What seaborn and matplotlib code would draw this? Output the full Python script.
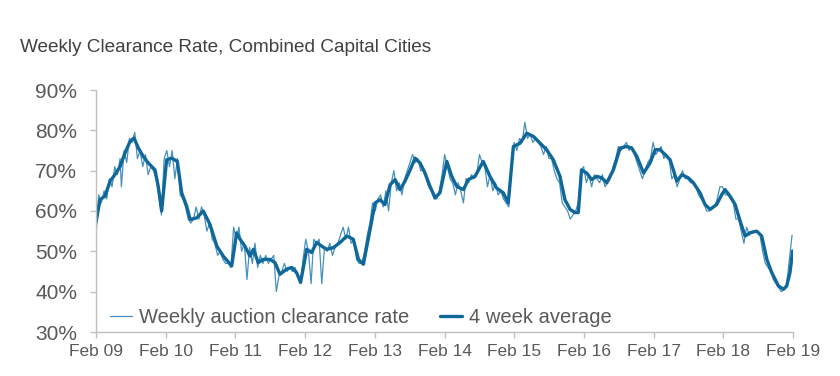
import pandas as pd
import numpy as np
import matplotlib
matplotlib.use('Agg')
import matplotlib.pyplot as plt
import matplotlib.dates as mdates
from matplotlib.ticker import FuncFormatter
import seaborn as sns

sns.set_style('white')
plt.rcParams['font.family'] = ['Liberation Sans', 'DejaVu Sans']

# weekly clearance rate (week number from Feb 2009, value %)
weekly_wk = [0, 2, 4, 6, 8, 10, 12, 14, 16, 18, 19, 21, 23, 25, 27, 29, 31, 33, 35, 37, 39, 41, 43, 45, 47, 49,
             51, 53, 55, 57, 59, 61, 63, 65, 67, 69, 71, 73, 75, 77, 79, 81, 83, 85, 87, 89, 91, 93, 95, 97, 99, 101,
             103, 105, 107, 109, 111, 113, 115, 117, 119, 121, 123, 125, 127, 129, 131, 133, 135, 137, 139, 141, 143,
             145, 147, 149, 151, 153, 155, 157, 159, 161, 163, 165, 167, 169, 171, 173, 175, 177, 179, 181, 183, 185,
             187, 189, 191, 193, 195, 197, 199, 201, 203, 205, 207, 209, 211, 213, 215, 217, 219, 221, 223, 225, 227,
             229, 231, 233, 235, 237, 239, 241, 243, 245, 247, 249, 251, 253, 255, 257, 259, 261, 263, 265, 267, 269,
             271, 273, 275, 277, 279, 281, 283, 285, 287, 289, 291, 293, 295, 297, 299, 301, 303, 305, 307, 309, 311,
             313, 315, 317, 319, 321, 323, 325, 327, 329, 331, 333, 335, 337, 339, 341, 343, 345, 347, 349, 351, 353,
             355, 357, 359, 361, 363, 365, 367, 369, 371, 373, 375, 377, 379, 381, 383, 385, 387, 389, 391, 393, 395,
             397, 399, 401, 403, 405, 407, 409, 411, 413, 415, 417, 419, 421, 423, 425, 427, 429, 431, 433, 435, 437,
             439, 441, 443, 445, 447, 449, 451, 453, 455, 457, 459, 461, 463, 465, 467, 469, 471, 473, 475, 477, 479,
             481, 483, 485, 487, 489, 491, 493, 495, 497, 499, 501, 503, 505, 507, 509, 511, 513, 515, 517, 519, 521]
weekly_val = [54, 64, 62, 65, 63, 68, 66, 71, 69, 73, 66, 75, 72, 78, 77, 79.5, 73, 75, 71, 74, 69, 71, 70, 68, 64, 59,
              73, 75, 71, 75, 68, 73, 64, 63, 61, 58, 57, 58, 61, 58, 61, 59, 55, 57, 53, 52, 49, 50, 48, 47, 47, 46,
              56, 53, 56, 50, 52, 43, 51, 47, 52, 46, 49, 47, 49, 47, 48, 49, 40, 44, 45, 47, 45,
              46, 45, 46, 44, 42, 48, 53, 50, 42, 53, 52, 53, 42, 51, 50, 52, 49, 51, 52, 54, 56,
              53, 56, 52, 53, 48, 47, 47, 50, 54, 57, 62, 60, 63, 64, 61, 65, 60, 67, 70, 65, 67,
              64, 68, 70, 72, 74, 72, 73, 70, 70, 68, 66, 65, 63, 63, 65, 69, 74, 71, 68, 67, 64,
              67, 65, 62, 68, 67, 69, 68, 69, 74, 72, 71, 66, 69, 65, 67, 64, 65, 63, 62, 61, 72,
              77, 75, 78, 77, 82, 78, 79, 77, 78, 77, 76, 74, 76, 73, 73, 70, 68, 67, 62, 61, 60,
              58, 59, 60, 62, 70, 71, 67, 69, 66, 69, 68, 67, 69, 66, 67, 68, 71, 73, 76, 75, 76,
              77, 75, 76, 74, 72, 70, 68, 70, 72, 73, 77, 74, 75, 76, 73, 74, 73, 68, 69, 66, 68,
              70, 68, 68, 67, 67, 66, 64, 63, 62, 60, 60, 61, 61, 63, 66, 66, 64, 64, 63, 62, 58,
              58, 55, 52, 56, 54, 55, 55, 55, 54, 50, 47, 46, 45, 43, 42, 41, 40, 40.5, 42, 48, 54]

# 4 week average (week number, value %)
avg_wk = [0, 3, 6.7, 10.5, 14.2, 18, 21.7, 25.5, 28.4, 31.7, 35.4, 39.2, 44.2, 46.6, 49.2, 52.9, 56.6, 60.9, 64.1,
          67.9, 70.4, 75.4, 80.3, 85.3, 90.4, 95.3, 101.6, 105.3, 107.8, 111.5, 115.3, 117.8, 121.5, 125.2, 130.3,
          134, 137.7, 142.7, 146.5, 150.2, 153.2, 157.7, 161.4, 165.2, 168.9, 172.7, 177.6, 182.7, 187.7, 192.6,
          196.4, 200.1, 205.1, 208.9, 212.6, 216.3, 220.1, 223.8, 227.6, 231.3, 235.1, 238.8, 242.5, 246.3, 250,
          253.8, 257.5, 262.5, 266.3, 270, 275, 278.7, 283.7, 289.9, 294.9, 299.9, 304.9, 308.6, 312.4, 317.4,
          322.4, 327.4, 332.4, 337.3, 342.3, 347.3, 351, 354.8, 358.5, 361, 363.5, 367.3, 371, 374.8, 378.5,
          382.3, 387.3, 392.3, 397.3, 401, 404.8, 409.8, 414.7, 418.5, 422.2, 426, 429.7, 432.2, 434.7, 438.5,
          443.4, 447.2, 452.2, 455.9, 459.7, 464.6, 468.4, 470.9, 474.6, 478.4, 482.1, 485.9, 489.6, 494.6,
          498.3, 502.1, 505.8, 510.8, 514.5, 517, 519.5, 521.5]
avg_val = [57.2, 62.8, 63.7, 67.4, 69, 71, 74.4, 77.2, 78.1, 75.6, 73.5, 71.9, 70.2, 66.1, 60, 72.7, 73.1, 72.3, 64.5,
           61.2, 57.9, 58.3, 60, 56.7, 51.3, 48.8, 46.4, 54.6, 53, 51.3, 48.8, 50.5, 47.2, 48, 48,
           47.2, 44.3, 45.6, 46, 44.7, 42.3, 50.5, 49.7, 52.2, 51.3, 50.5, 50.9, 52.2, 53.8, 53,
           48, 46.8, 55.4, 62, 62.8, 61.6, 66.5, 67.8, 65.3, 67.4, 70.2, 73.1, 71.9, 69.4, 66.1,
           63.3, 64.5, 72.3, 68.6, 66.1, 65.3, 67.8, 68.6, 72.3, 68.6, 65.7, 64.5, 62, 76, 76.8,
           79.3, 78.5, 76.8, 75.2, 72.7, 68.6, 62.8, 60.4, 59.6, 59.6, 70.2, 69.4, 67.8, 68.6, 68.2,
           67, 70.2, 75.6, 76, 75.6, 73.5, 69.4, 71.9, 75.2, 75.2, 74, 72.7, 70.2, 67.4, 69,
           68.2, 67, 64.5, 61.6, 60.4, 61.6, 64.1, 65.3, 63.7, 61.6, 57.5, 53.8, 54.6, 55,
           53.8, 48, 44.7, 41.4, 40.6, 41.4, 44.7, 50.1]

start = pd.Timestamp('2009-02-01')
weekly = pd.DataFrame({'date': start + pd.to_timedelta(np.array(weekly_wk) * 7, unit='D'),
                       'rate': weekly_val})
avg = pd.DataFrame({'date': start + pd.to_timedelta(np.round(np.array(avg_wk) * 7), unit='D'),
                    'rate': avg_val})

thin_col = '#4590bc'
thick_col = '#10679a'
grey = '#595959'

fig = plt.figure(figsize=(8.4, 3.76), dpi=100)
ax = fig.add_axes([96 / 840, 1 - 332 / 376, 697 / 840, 242 / 376])

sns.lineplot(data=weekly, x='date', y='rate', ax=ax, color=thin_col, linewidth=0.9,
             label='Weekly auction clearance rate')
sns.lineplot(data=avg, x='date', y='rate', ax=ax, color=thick_col, linewidth=2.4,
             label='4 week average')

ax.set_ylim(30, 90)
ax.set_xlim(pd.Timestamp('2009-02-01'), pd.Timestamp('2019-02-01'))
ax.set_yticks(range(30, 91, 10))
ax.yaxis.set_major_formatter(FuncFormatter(lambda v, p: f'{v:.0f}%'))
ax.xaxis.set_major_locator(mdates.MonthLocator(bymonth=2, bymonthday=1))
ax.xaxis.set_major_formatter(mdates.DateFormatter('%b %y'))
ax.set_xlabel('')
ax.set_ylabel('')

for s in ['top', 'right']:
    ax.spines[s].set_visible(False)
for s in ['left', 'bottom']:
    ax.spines[s].set_color('#bfbfbf')
    ax.spines[s].set_linewidth(1)
ax.tick_params(axis='y', labelsize=15, colors='#bfbfbf', labelcolor=grey, length=4.5, width=1,
               direction='out', left=True, pad=9)
ax.tick_params(axis='x', labelsize=12.5, colors='#bfbfbf', labelcolor=grey, length=4, width=1,
               direction='out', bottom=True, pad=5)

leg = ax.legend(loc='center left', bbox_to_anchor=(0.02, 0.06), ncol=2, frameon=False,
                fontsize=14.5, handlelength=1.1, handletextpad=0.35, columnspacing=1.5,
                borderaxespad=0, borderpad=0)
for t in leg.get_texts():
    t.set_color(grey)

fig.text(20 / 840, 1 - 48 / 376, 'Weekly Clearance Rate, Combined Capital Cities',
         fontsize=13.7, color='#404040', va='center', ha='left')

fig.savefig('out.png', dpi=100)
